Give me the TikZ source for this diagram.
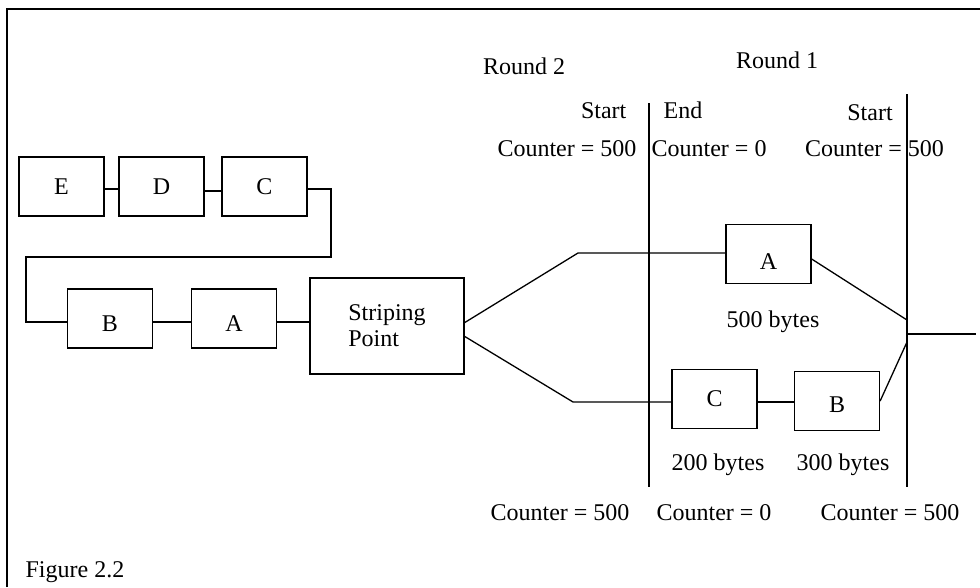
\documentclass[tikz,border=0pt]{standalone}
\usepackage{fontspec}
\setmainfont{Liberation Serif}
\begin{document}
\begin{tikzpicture}[x=1pt,y=-1pt,line width=1.3pt,
  font=\fontsize{24}{26}\selectfont,
  box/.style={draw, minimum width=85pt, minimum height=59pt, inner sep=0pt},
  lbl/.style={anchor=base, inner sep=0pt}]
\useasboundingbox (0,0) rectangle (980,587);
% frame
\draw[line width=2pt] (7,587) -- (7,9) -- (980,9);
% queue boxes
\node[box] (E) at (61.5,186.5) {E};
\node[box] (D) at (161.5,186.5) {D};
\node[box] (C) at (264.5,186.5) {C};
\node[box, text height=26pt] (B) at (110,318.5) {B};
\node[box, text height=26pt] (A) at (234,318.5) {A};
\node[box, minimum width=154pt, minimum height=96pt, align=left] (S) at (387,326) {Striping\\Point};
\node[box, text height=30pt] (A2) at (768.5,254) {A};
\node[box] (C2) at (714.5,399) {C};
\node[box, text height=24pt] (B2) at (837,401) {B};
% queue connectors
\coordinate (c1) at (331,189);
\coordinate (c2) at (331,257);
\coordinate (c3) at (26,257);
\coordinate (c4) at (26,322);
\draw ([yshift=-2.5pt]E.east) -- ([yshift=-2.5pt]D.west);
\draw ([yshift=-4.5pt]D.east) -- ([yshift=-4.5pt]C.west);
\draw ([yshift=-2.5pt]C.east) -- (c1) -- (c2) -- (c3) -- (c4) -- (B.west |- c4);
\draw (B.east |- c4) -- (A.west |- c4);
\draw (A.east |- c4) -- (S.west |- c4);
% striping branches
\coordinate (s1) at (464,323);
\coordinate (u1) at (578,253);
\coordinate (s2) at (464,336);
\coordinate (l1) at (573,402);
\draw (s1) -- (u1) -- (A2.west |- u1);
\draw (s2) -- (l1) -- (C2.west |- l1);
\draw (C2.east |- l1) -- (B2.west |- l1);
% round boundaries
\coordinate (v1t) at (649,103);
\coordinate (v1b) at (649,487);
\coordinate (v2t) at (907,94);
\coordinate (v2b) at (907,487);
\draw (v1t) -- (v1b);
\draw (v2t) -- (v2b);
% merge
\coordinate (m1) at (907,320);
\coordinate (m2) at (907,342);
\coordinate (o1) at (907,334);
\coordinate (o2) at (976,334);
\draw ([yshift=-5pt]A2.east) -- (m1);
\draw (B2.east) -- (m2);
\draw (o1) -- (o2);
% labels
\node[lbl] (r2) at (524,74) {Round 2};
\node[lbl] (r1) at (777,68) {Round 1};
\node[lbl, anchor=base east] (st1) at (627,118) {Start};
\node[lbl, anchor=base west] (en1) at (663,118) {End};
\node[lbl] (st2) at (870,120) {Start};
\node[lbl, anchor=base east] (ct1) at (637,156) {Counter = 500};
\node[lbl, anchor=base west] (ct2) at (651,156) {Counter = 0};
\node[lbl] (ct3) at (874.5,156) {Counter = 500};
\node[lbl] (b500) at (773,327) {500 bytes};
\node[lbl] (b200) at (718,470) {200 bytes};
\node[lbl] (b300) at (843,470) {300 bytes};
\node[lbl] (cb1) at (560,520) {Counter = 500};
\node[lbl] (cb2) at (714,520) {Counter = 0};
\node[lbl] (cb3) at (890,520) {Counter = 500};
\node[lbl, anchor=base west] (fig) at (25,577) {Figure 2.2};
\end{tikzpicture}
\end{document}
